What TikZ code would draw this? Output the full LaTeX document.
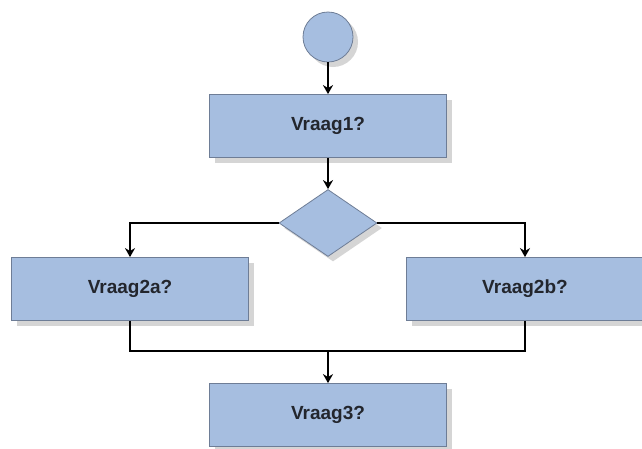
\documentclass[tikz,border=0pt]{standalone}
\usepackage{fontspec}
\setmainfont{Liberation Sans}
\usetikzlibrary{shapes.geometric,shadows,arrows.meta,calc}
\definecolor{boxfill}{RGB}{166,190,224}
\definecolor{boxline}{RGB}{110,125,150}
\definecolor{txt}{RGB}{35,38,45}
\begin{document}
\begin{tikzpicture}[x=1pt,y=-1pt,
  shade/.style={drop shadow={shadow xshift=5pt,shadow yshift=-5pt,fill=black!30,opacity=0.55}},
  qbox/.style={draw=boxline,line width=0.8pt,fill=boxfill,minimum width=237pt,minimum height=63pt,inner sep=0pt,shade,
    font=\fontsize{19}{21}\selectfont\bfseries,text=txt},
  startc/.style={circle,draw=boxline,line width=0.8pt,fill=boxfill,minimum size=50pt,inner sep=0pt,shade},
  dec/.style={diamond,draw=boxline,line width=0.8pt,fill=boxfill,minimum width=98pt,minimum height=67pt,inner sep=0pt,aspect=1.46,shade},
  conn/.style={line width=2pt,black},
  arr/.style={conn,-{Stealth[length=9pt,width=10pt]}}]
\useasboundingbox (0,0) rectangle (642,448);
\node[startc] (start) at (328,37) {};
\node[qbox] (q1) at (328,126) {Vraag1?};
\node[dec] (d) at (328,223) {};
\node[qbox] (q2a) at (130,289) {Vraag2a?};
\node[qbox] (q2b) at (525,289) {Vraag2b?};
\node[qbox] (q3) at (328,415) {Vraag3?};
\coordinate (m) at (328,351);
\draw[arr] (start) -- (q1);
\draw[arr] (q1) -- (d);
\draw[arr] (d.west) -| (q2a.north);
\draw[arr] (d.east) -| (q2b.north);
\draw[conn] (q2a.south) |- (m);
\draw[conn] (q2b.south) |- (m);
\draw[arr] (m) -- (q3);
\end{tikzpicture}
\end{document}
